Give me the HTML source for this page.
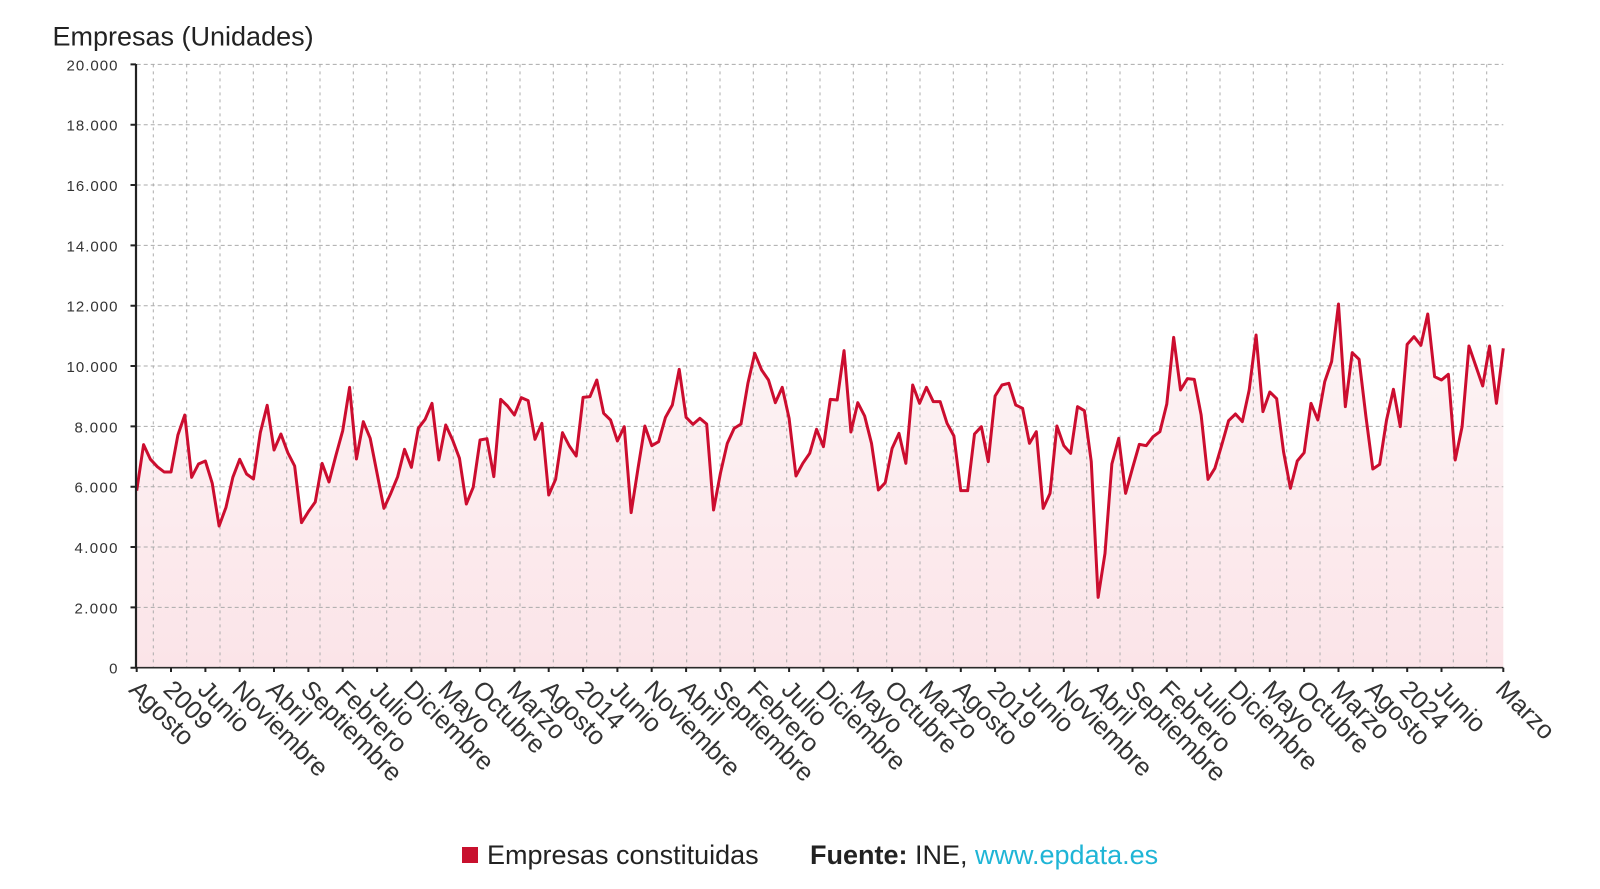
<!DOCTYPE html>
<html><head><meta charset="utf-8">
<style>
html,body{margin:0;padding:0;background:#fff;}
svg{display:block;}
text{font-family:"Liberation Sans",Arial,sans-serif;}
</style></head>
<body>
<svg width="1600" height="889" viewBox="0 0 1600 889" xmlns="http://www.w3.org/2000/svg">
<defs>
<linearGradient id="g" x1="0" y1="0" x2="0" y2="1">
<stop offset="0" stop-color="#fdf5f6"/>
<stop offset="1" stop-color="#fbe4e8"/>
</linearGradient>
</defs>
<rect width="1600" height="889" fill="#fff"/>

<text x="52.5" y="45.7" font-size="27" fill="#222">Empresas (Unidades)</text>

<!-- area fill -->
<g transform="translate(136.7,280) scale(6.8673,0.333333)">
<polygon fill="url(#g)" points="0,1163 0,632 1,494 2,538 3,560 4,576 5,576 6,465 7,405 8,592 9,552 10,543 11,610 12,738 13,682 14,592 15,538 16,582 17,597 18,458 19,376 20,510 21,462 22,518 23,558 24,728 25,695 26,666 27,550 28,606 29,527 30,452 31,322 32,537 33,425 34,475 35,580 36,685 37,640 38,590 39,508 40,562 41,445 42,418 43,370 44,540 45,435 46,480 47,535 48,672 49,622 50,480 51,476 52,590 53,358 54,378 55,405 56,353 57,362 58,478 59,430 60,645 61,598 62,458 63,498 64,528 65,352 66,350 67,300 68,400 69,420 70,483 71,440 72,698 73,565 74,438 75,497 76,485 77,412 78,375 79,268 80,412 81,433 82,415 83,432 84,690 85,580 86,490 87,445 88,432 89,310 90,220 91,270 92,300 93,368 94,322 95,415 96,588 97,550 98,520 99,448 100,500 101,358 102,360 103,212 104,456 105,368 106,408 107,490 108,630 109,608 110,505 111,460 112,550 113,315 114,370 115,322 116,365 117,365 118,430 119,468 120,632 121,632 122,462 123,440 124,545 125,348 126,315 127,310 128,375 129,385 130,490 131,455 132,685 133,640 134,438 135,497 136,520 137,380 138,392 139,545 140,952 141,820 142,552 143,475 144,640 145,565 146,493 147,497 148,470 149,455 150,372 151,172 152,330 153,296 154,298 155,405 156,598 157,565 158,495 159,422 160,402 161,425 162,330 163,165 164,395 165,336 166,356 167,515 168,625 169,543 170,518 171,370 172,420 173,305 174,245 175,72 176,380 177,218 178,238 179,410 180,567 181,553 182,420 183,328 184,440 185,193 186,170 187,196 188,102 189,290 190,300 191,283 192,540 193,440 194,198 195,258 196,318 197,198 198,370 199,205 199,1163"/>
</g>

<!-- horizontal grid -->
<path fill="none" stroke="#ababab" stroke-width="1" stroke-dasharray="4 3"
d="M136.7 607.4H1503.3M136.7 547H1503.3M136.7 486.7H1503.3M136.7 426.4H1503.3M136.7 366H1503.3M136.7 305.7H1503.3M136.7 245.4H1503.3M136.7 185H1503.3M136.7 124.7H1503.3M136.7 64.4H1503.3"/>
<!-- vertical grid -->
<path fill="none" stroke="#ababab" stroke-width="1" stroke-dasharray="3 4"
d="M153.3 64.4V667.7M186.7 64.4V667.7M220 64.4V667.7M253.3 64.4V667.7M286.7 64.4V667.7M320 64.4V667.7M353.3 64.4V667.7M386.7 64.4V667.7M420 64.4V667.7M453.3 64.4V667.7M486.7 64.4V667.7M520 64.4V667.7M553.3 64.4V667.7M586.7 64.4V667.7M620 64.4V667.7M653.3 64.4V667.7M686.7 64.4V667.7M720 64.4V667.7M753.3 64.4V667.7M786.7 64.4V667.7M820 64.4V667.7M853.3 64.4V667.7M886.7 64.4V667.7M920 64.4V667.7M953.3 64.4V667.7M986.7 64.4V667.7M1020 64.4V667.7M1053.3 64.4V667.7M1086.7 64.4V667.7M1120 64.4V667.7M1153.3 64.4V667.7M1186.7 64.4V667.7M1220 64.4V667.7M1253.3 64.4V667.7M1286.7 64.4V667.7M1320 64.4V667.7M1353.3 64.4V667.7M1386.7 64.4V667.7M1420 64.4V667.7M1453.3 64.4V667.7M1486.7 64.4V667.7"/>

<!-- line -->
<g transform="translate(136.7,280) scale(6.8673,0.333333)">
<polyline fill="none" stroke="#cc0d2f" stroke-width="3" vector-effect="non-scaling-stroke" stroke-linejoin="round" points="0,632 1,494 2,538 3,560 4,576 5,576 6,465 7,405 8,592 9,552 10,543 11,610 12,738 13,682 14,592 15,538 16,582 17,597 18,458 19,376 20,510 21,462 22,518 23,558 24,728 25,695 26,666 27,550 28,606 29,527 30,452 31,322 32,537 33,425 34,475 35,580 36,685 37,640 38,590 39,508 40,562 41,445 42,418 43,370 44,540 45,435 46,480 47,535 48,672 49,622 50,480 51,476 52,590 53,358 54,378 55,405 56,353 57,362 58,478 59,430 60,645 61,598 62,458 63,498 64,528 65,352 66,350 67,300 68,400 69,420 70,483 71,440 72,698 73,565 74,438 75,497 76,485 77,412 78,375 79,268 80,412 81,433 82,415 83,432 84,690 85,580 86,490 87,445 88,432 89,310 90,220 91,270 92,300 93,368 94,322 95,415 96,588 97,550 98,520 99,448 100,500 101,358 102,360 103,212 104,456 105,368 106,408 107,490 108,630 109,608 110,505 111,460 112,550 113,315 114,370 115,322 116,365 117,365 118,430 119,468 120,632 121,632 122,462 123,440 124,545 125,348 126,315 127,310 128,375 129,385 130,490 131,455 132,685 133,640 134,438 135,497 136,520 137,380 138,392 139,545 140,952 141,820 142,552 143,475 144,640 145,565 146,493 147,497 148,470 149,455 150,372 151,172 152,330 153,296 154,298 155,405 156,598 157,565 158,495 159,422 160,402 161,425 162,330 163,165 164,395 165,336 166,356 167,515 168,625 169,543 170,518 171,370 172,420 173,305 174,245 175,72 176,380 177,218 178,238 179,410 180,567 181,553 182,420 183,328 184,440 185,193 186,170 187,196 188,102 189,290 190,300 191,283 192,540 193,440 194,198 195,258 196,318 197,198 198,370 199,205"/>
</g>

<!-- axes -->
<line x1="136.7" y1="667.7" x2="1503.3" y2="667.7" stroke="#2a2a2a" stroke-width="1.6"/>
<line x1="136" y1="64" x2="136" y2="668.5" stroke="#222" stroke-width="2.2"/>
<path fill="none" stroke="#222" stroke-width="2"
d="M130.5 667.7H136M130.5 607.4H136M130.5 547H136M130.5 486.7H136M130.5 426.4H136M130.5 366H136M130.5 305.7H136M130.5 245.4H136M130.5 185H136M130.5 124.7H136M130.5 64.4H136"/>
<path fill="none" stroke="#222" stroke-width="2"
d="M136.7 667.7V672M171 667.7V672M205.4 667.7V672M239.7 667.7V672M274 667.7V672M308.4 667.7V672M342.7 667.7V672M377.1 667.7V672M411.4 667.7V672M445.7 667.7V672M480.1 667.7V672M514.4 667.7V672M548.7 667.7V672M583.1 667.7V672M617.4 667.7V672M651.7 667.7V672M686.1 667.7V672M720.4 667.7V672M754.8 667.7V672M789.1 667.7V672M823.4 667.7V672M857.8 667.7V672M892.1 667.7V672M926.4 667.7V672M960.8 667.7V672M995.1 667.7V672M1029.5 667.7V672M1063.8 667.7V672M1098.1 667.7V672M1132.5 667.7V672M1166.8 667.7V672M1201.1 667.7V672M1235.5 667.7V672M1269.8 667.7V672M1304.1 667.7V672M1338.5 667.7V672M1372.8 667.7V672M1407.2 667.7V672M1441.5 667.7V672M1503.3 667.7V672"/>

<!-- y labels -->
<g font-size="15" fill="#333" text-anchor="end">
<text x="117.5" y="673.7">0</text>
<text x="117.5" y="613.4" textLength="43">2.000</text>
<text x="117.5" y="553" textLength="43">4.000</text>
<text x="117.5" y="492.7" textLength="43">6.000</text>
<text x="117.5" y="432.4" textLength="43">8.000</text>
<text x="117.5" y="372" textLength="51">10.000</text>
<text x="117.5" y="311.7" textLength="51">12.000</text>
<text x="117.5" y="251.4" textLength="51">14.000</text>
<text x="117.5" y="191" textLength="51">16.000</text>
<text x="117.5" y="130.7" textLength="51">18.000</text>
<text x="117.5" y="70.4" textLength="51">20.000</text>
</g>

<!-- x labels -->
<g font-size="25.5" fill="#333">
<text transform="translate(127.7,691) rotate(45)">Agosto</text>
<text transform="translate(162,691) rotate(45)">2009</text>
<text transform="translate(196.4,691) rotate(45)">Junio</text>
<text transform="translate(230.7,691) rotate(45)">Noviembre</text>
<text transform="translate(265,691) rotate(45)">Abril</text>
<text transform="translate(299.4,691) rotate(45)">Septiembre</text>
<text transform="translate(333.7,691) rotate(45)">Febrero</text>
<text transform="translate(368.1,691) rotate(45)">Julio</text>
<text transform="translate(402.4,691) rotate(45)">Diciembre</text>
<text transform="translate(436.7,691) rotate(45)">Mayo</text>
<text transform="translate(471.1,691) rotate(45)">Octubre</text>
<text transform="translate(505.4,691) rotate(45)">Marzo</text>
<text transform="translate(539.7,691) rotate(45)">Agosto</text>
<text transform="translate(574.1,691) rotate(45)">2014</text>
<text transform="translate(608.4,691) rotate(45)">Junio</text>
<text transform="translate(642.7,691) rotate(45)">Noviembre</text>
<text transform="translate(677.1,691) rotate(45)">Abril</text>
<text transform="translate(711.4,691) rotate(45)">Septiembre</text>
<text transform="translate(745.8,691) rotate(45)">Febrero</text>
<text transform="translate(780.1,691) rotate(45)">Julio</text>
<text transform="translate(814.4,691) rotate(45)">Diciembre</text>
<text transform="translate(848.8,691) rotate(45)">Mayo</text>
<text transform="translate(883.1,691) rotate(45)">Octubre</text>
<text transform="translate(917.4,691) rotate(45)">Marzo</text>
<text transform="translate(951.8,691) rotate(45)">Agosto</text>
<text transform="translate(986.1,691) rotate(45)">2019</text>
<text transform="translate(1020.5,691) rotate(45)">Junio</text>
<text transform="translate(1054.8,691) rotate(45)">Noviembre</text>
<text transform="translate(1089.1,691) rotate(45)">Abril</text>
<text transform="translate(1123.5,691) rotate(45)">Septiembre</text>
<text transform="translate(1157.8,691) rotate(45)">Febrero</text>
<text transform="translate(1192.1,691) rotate(45)">Julio</text>
<text transform="translate(1226.5,691) rotate(45)">Diciembre</text>
<text transform="translate(1260.8,691) rotate(45)">Mayo</text>
<text transform="translate(1295.1,691) rotate(45)">Octubre</text>
<text transform="translate(1329.5,691) rotate(45)">Marzo</text>
<text transform="translate(1363.8,691) rotate(45)">Agosto</text>
<text transform="translate(1398.2,691) rotate(45)">2024</text>
<text transform="translate(1432.5,691) rotate(45)">Junio</text>
<text transform="translate(1494.3,691) rotate(45)">Marzo</text>
</g>

<!-- legend -->
<rect x="462" y="847" width="16" height="16" fill="#c8102e"/>
<text x="487" y="864" font-size="27" fill="#222">Empresas constituidas</text>
<text x="810" y="864" font-size="27" fill="#222"><tspan font-weight="bold">Fuente:</tspan> INE, <tspan fill="#1fb5d6">www.epdata.es</tspan></text>
</svg>
</body></html>
